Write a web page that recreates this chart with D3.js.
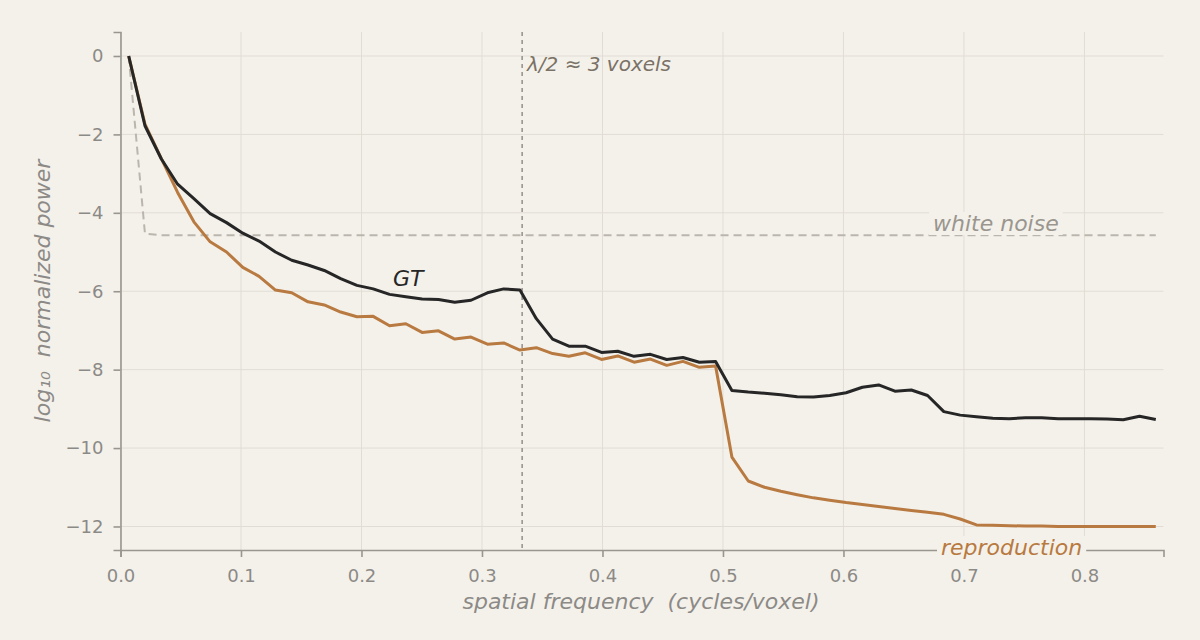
<!DOCTYPE html>
<html>
<head>
<meta charset="utf-8">
<script src="https://cdn.jsdelivr.net/npm/d3@7"></script>
<style>
  html, body { margin: 0; padding: 0; background: #f4f1eb; }
  svg { display: block; font-family: "DejaVu Sans", sans-serif; }
  text { white-space: pre; }
</style>
</head>
<body>
<svg id="chart" width="1200" height="640"></svg>
<script>
// ---- data ----
const frequency = [0.0068,0.0203,0.0338,0.0474,0.0609,0.0744,0.0880,0.1015,0.1150,0.1286,
  0.1421,0.1556,0.1691,0.1827,0.1962,0.2097,0.2233,0.2368,0.2503,0.2639,
  0.2774,0.2909,0.3045,0.3180,0.3315,0.3451,0.3586,0.3721,0.3857,0.3992,
  0.4127,0.4262,0.4398,0.4533,0.4668,0.4804,0.4939,0.5074,0.5210,0.5345,
  0.5480,0.5616,0.5751,0.5886,0.6022,0.6157,0.6292,0.6427,0.6563,0.6698,
  0.6833,0.6969,0.7104,0.7239,0.7375,0.7510,0.7645,0.7781,0.7916,0.8051,
  0.8187,0.8322,0.8457,0.8592];

const gtPower = [0,-1.78,-2.62,-3.27,-3.64,-4.02,-4.25,-4.52,-4.72,-5.00,
  -5.21,-5.33,-5.47,-5.68,-5.85,-5.94,-6.08,-6.14,-6.20,-6.21,
  -6.28,-6.23,-6.04,-5.94,-5.97,-6.70,-7.22,-7.40,-7.40,-7.56,
  -7.53,-7.66,-7.61,-7.74,-7.69,-7.81,-7.79,-8.53,-8.57,-8.60,
  -8.64,-8.69,-8.70,-8.66,-8.59,-8.45,-8.39,-8.55,-8.52,-8.66,
  -9.07,-9.16,-9.20,-9.24,-9.25,-9.23,-9.23,-9.25,-9.25,-9.25,
  -9.26,-9.28,-9.19,-9.27];

const reproductionPower = [0,-1.74,-2.61,-3.48,-4.23,-4.74,-5.00,-5.39,-5.62,-5.97,
  -6.04,-6.27,-6.35,-6.53,-6.65,-6.64,-6.88,-6.83,-7.05,-7.01,
  -7.22,-7.17,-7.35,-7.32,-7.50,-7.44,-7.59,-7.66,-7.57,-7.74,
  -7.65,-7.81,-7.73,-7.89,-7.79,-7.94,-7.91,-10.23,-10.84,-11.00,
  -11.10,-11.19,-11.27,-11.33,-11.39,-11.44,-11.49,-11.54,-11.59,-11.64,
  -11.69,-11.81,-11.96,-11.97,-11.98,-11.99,-11.99,-12.00,-12.00,-12.00,
  -12.00,-12.00,-12.00,-12.00];

const whiteNoisePower = [0,-4.53,-4.57,-4.57,-4.57,-4.57,-4.57,-4.57,-4.57,-4.57,
  -4.57,-4.57,-4.57,-4.57,-4.57,-4.57,-4.57,-4.57,-4.57,-4.57,
  -4.57,-4.57,-4.57,-4.57,-4.57,-4.57,-4.57,-4.57,-4.57,-4.57,
  -4.57,-4.57,-4.57,-4.57,-4.57,-4.57,-4.57,-4.57,-4.57,-4.57,
  -4.57,-4.57,-4.57,-4.57,-4.57,-4.57,-4.57,-4.57,-4.57,-4.57,
  -4.57,-4.57,-4.57,-4.57,-4.57,-4.57,-4.57,-4.57,-4.57,-4.57,
  -4.57,-4.57,-4.57,-4.57];

const xTicks = [0.0,0.1,0.2,0.3,0.4,0.5,0.6,0.7,0.8];
const yTicks = [0,-2,-4,-6,-8,-10,-12];
const nyquistHalf = 1/3;

// ---- layout ----
const BG = "#f4f1eb";
const svg = d3.select("#chart");
svg.append("rect").attr("width",1200).attr("height",640).attr("fill",BG);

const x = d3.scaleLinear().domain([0, 0.8656]).range([120.5, 1163.5]);
const y = d3.scaleLinear().domain([-12.6, 0.612]).range([550, 32]);

// grid
const grid = svg.append("g");
grid.selectAll(".gx").data(xTicks).join("line")
  .attr("x1", d=>x(d)).attr("x2", d=>x(d)).attr("y1", 32).attr("y2", 550)
  .attr("stroke", "#e1ddd5").attr("stroke-width", 1);
grid.selectAll(".gy").data(yTicks).join("line")
  .attr("x1", 120.5).attr("x2", 1163.5).attr("y1", d=>y(d)).attr("y2", d=>y(d))
  .attr("stroke", "#e1ddd5").attr("stroke-width", 1);

// axes
const xAxis = svg.append("g").attr("transform","translate(0,550)")
  .call(d3.axisBottom(x).tickValues(xTicks).tickFormat(d3.format(".1f")).tickSize(7).tickPadding(6));
const yAxis = svg.append("g").attr("transform","translate(120.5,0)")
  .call(d3.axisLeft(y).tickValues(yTicks).tickFormat(d => d3.format("d")(d).replace("-", "\u2212")).tickSize(7).tickPadding(10));
[xAxis, yAxis].forEach(a => {
  a.attr("font-family", "DejaVu Sans");
  a.select(".domain").attr("stroke", "#999690").attr("stroke-width", 1.6);
  a.selectAll(".tick line").attr("stroke", "#999690").attr("stroke-width", 1.6);
  a.selectAll(".tick text").attr("fill", "#8c8a86").attr("font-size", 18)
    .attr("font-family", "DejaVu Sans");
});
xAxis.selectAll(".tick text").attr("dy", "1.05em");

// axis titles
svg.append("text").attr("x", 641).attr("y", 609).attr("text-anchor","middle")
  .attr("font-size", 22).attr("font-style","italic").attr("fill","#8c8a86")
  .text("spatial frequency  (cycles/voxel)");
svg.append("text").attr("transform","translate(50,291) rotate(-90)").attr("text-anchor","middle")
  .attr("font-size", 22).attr("font-style","italic").attr("fill","#8c8a86")
  .text("log\u2081\u2080  normalized power");

// vertical reference
svg.append("line").attr("x1", x(nyquistHalf)).attr("x2", x(nyquistHalf))
  .attr("y1", 32).attr("y2", 550)
  .attr("stroke", "#9a958d").attr("stroke-width", 1.6).attr("stroke-dasharray", "4,4");

const line = (vals) => d3.line().x((d,i)=>x(frequency[i])).y(d=>y(d))(vals);

svg.append("path").attr("d", line(whiteNoisePower)).attr("fill","none")
  .attr("stroke","#bab6ae").attr("stroke-width",2).attr("stroke-dasharray","8,5");
svg.append("path").attr("d", line(reproductionPower)).attr("fill","none")
  .attr("stroke","#b87a40").attr("stroke-width",3).attr("stroke-linejoin","round");
svg.append("path").attr("d", line(gtPower)).attr("fill","none")
  .attr("stroke","#262626").attr("stroke-width",3).attr("stroke-linejoin","round");

// labels with background boxes
function label(tx, ty, txt, color, size, anchor) {
  const g = svg.append("g");
  const t = g.append("text").attr("x", tx).attr("y", ty).attr("text-anchor", anchor || "start")
    .attr("font-size", size).attr("font-style","italic").attr("fill", color).text(txt);
  const bb = t.node().getBBox();
  g.insert("rect","text").attr("x", bb.x-4).attr("y", bb.y+1).attr("width", bb.width+8)
    .attr("height", bb.height-2).attr("fill", BG);
}
label(393, 286, "GT", "#262626", 22);
label(933, 231, "white noise", "#9a968f", 22);
label(941, 555, "reproduction", "#b87a40", 22);
svg.append("text").attr("x", 527).attr("y", 71).attr("font-size", 20).attr("font-style","italic")
  .attr("fill","#7a7266").text("\u03bb/2 \u2248 3 voxels");
</script>
</body>
</html>
